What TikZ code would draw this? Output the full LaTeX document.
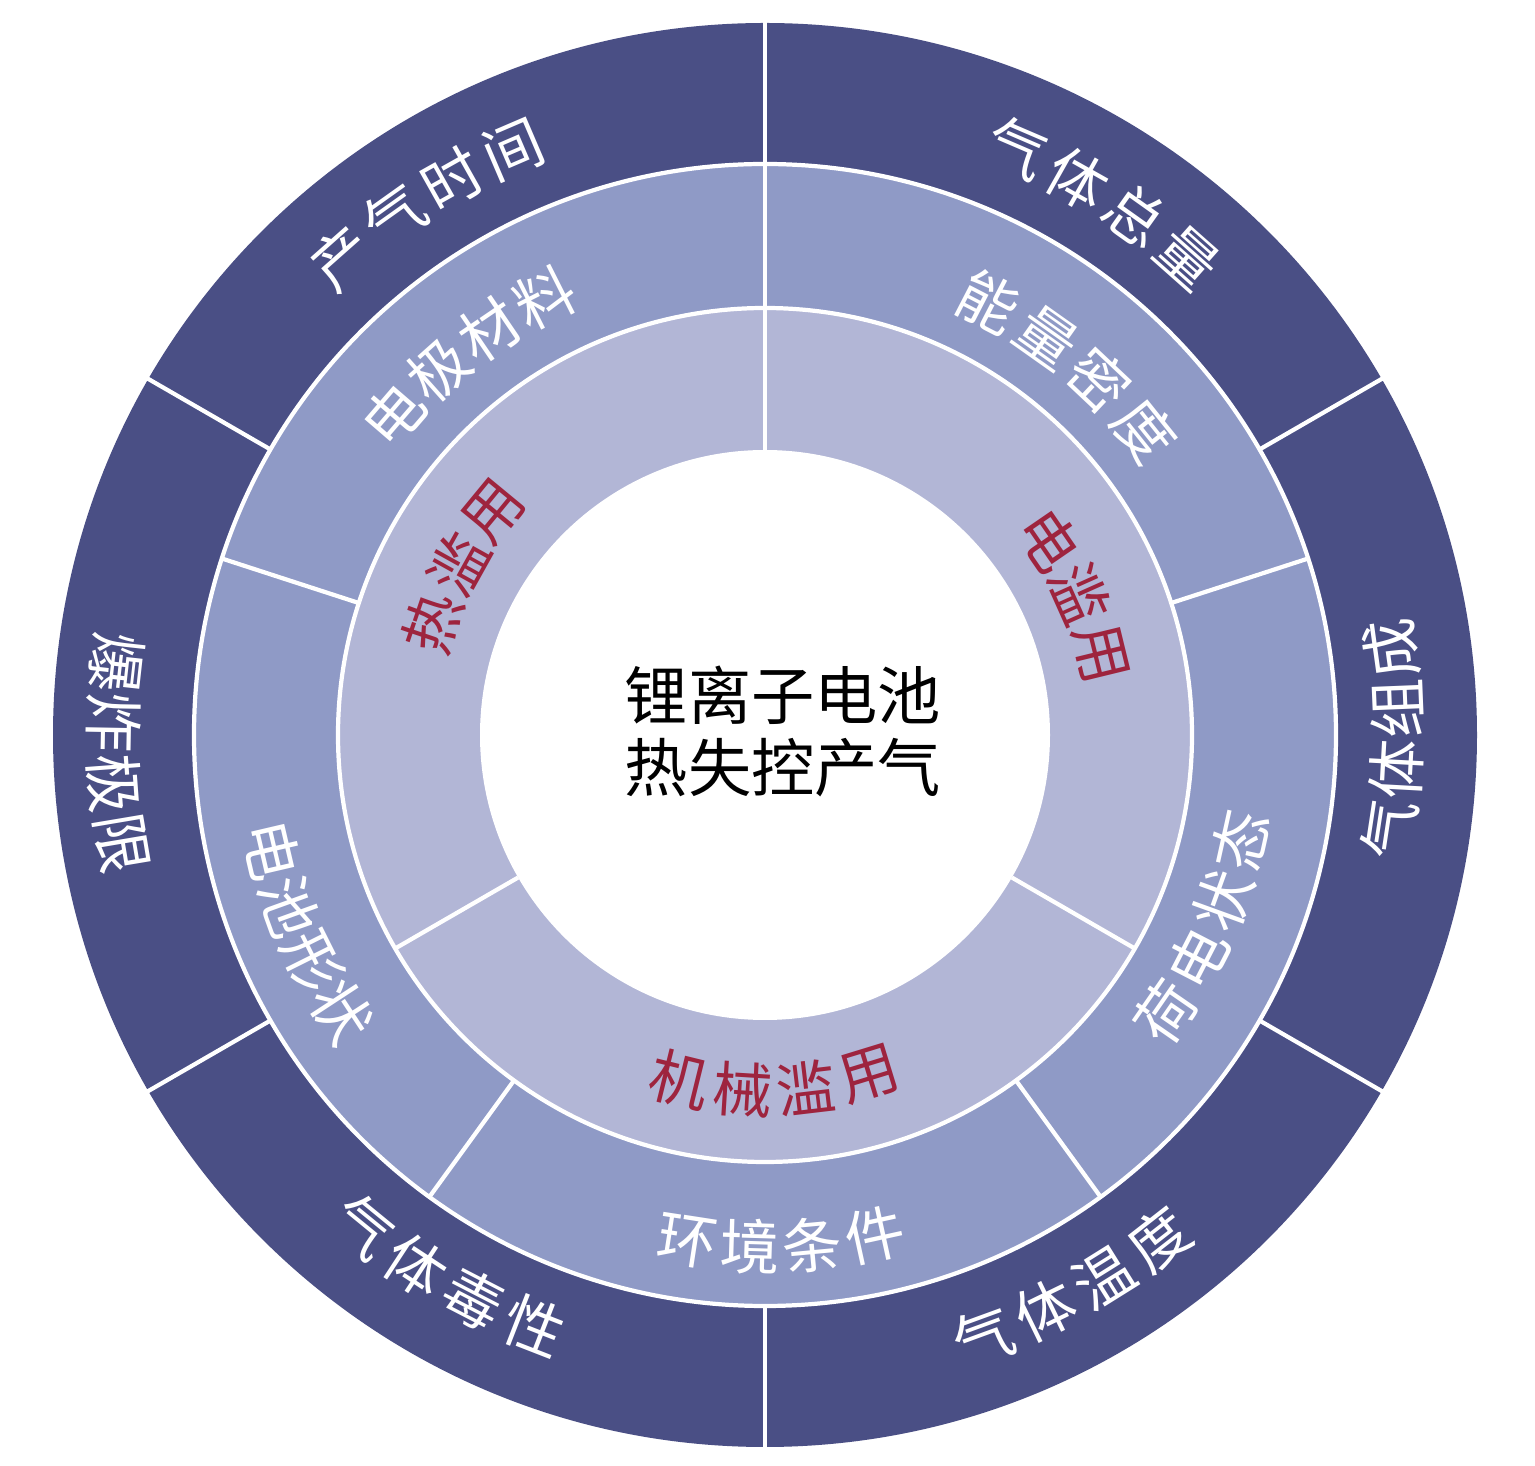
\documentclass[tikz,border=0pt]{standalone}
\usepackage{fontspec}
\newfontfamily\cjk{Noto Sans CJK SC}
\definecolor{ringA}{RGB}{74,79,133}
\definecolor{ringB}{RGB}{143,154,198}
\definecolor{ringC}{RGB}{178,182,214}
\definecolor{abuse}{RGB}{158,36,62}
% labels along an arc: name, centre angle, radius, step (deg), count, style, chars
\newcommand\lbltop[7]{%
  \foreach \ch [count=\k from 0] in {#7}{%
    \pgfmathsetmacro\aa{#2+(#5-1)/2*#4-\k*#4}%
    \pgfmathsetmacro\rr{\aa-90}%
    \node[#6,rotate=\rr] (#1-\k) at (\aa:#3) {\ch};
  }}
\newcommand\lblbot[7]{%
  \foreach \ch [count=\k from 0] in {#7}{%
    \pgfmathsetmacro\aa{#2-(#5-1)/2*#4+\k*#4}%
    \pgfmathsetmacro\rr{\aa+90}%
    \node[#6,rotate=\rr] (#1-\k) at (\aa:#3) {\ch};
  }}
\begin{document}
\begin{tikzpicture}[
  lab/.style={font=\cjk\fontsize{17}{20}\selectfont, inner sep=0pt},
  outlab/.style={lab,text=white},
  inlab/.style={lab,text=abuse},
  sep/.style={white,line width=1.2pt},
]
\useasboundingbox (0,0) rectangle (15.35,14.66);
\fill[white] (0,0) rectangle (15.35,14.66);
\begin{scope}[shift={(7.65,7.31)}]
  \coordinate (O) at (0,0);
  \fill[ringA] (O) circle (7.12);
  \fill[ringB] (O) circle (5.71);
  \fill[ringC] (O) circle (4.27);
  \fill[white] (O) circle (2.85);
  \draw[sep] (O) circle (5.71);
  \draw[sep] (O) circle (4.27);
  \foreach \a in {30,90,...,330} \draw[sep] (\a:5.71) -- (\a:7.14);
  \foreach \a in {18,90,162,234,306} \draw[sep] (\a:4.27) -- (\a:5.71);
  \foreach \a in {90,210,330} \draw[sep] (\a:2.85) -- (\a:4.27);
  % outer ring
  \lbltop{t1}{122.4}{6.38}{6.1}{4}{outlab}{产,气,时,间}
  \lbltop{t2}{57.6}{6.38}{6.1}{4}{outlab}{气,体,总,量}
  \lblbot{t3}{-0.4}{6.32}{5.5}{4}{outlab}{气,体,组,成}
  \lblbot{t4}{-61}{6.40}{6.0}{4}{outlab}{气,体,温,度}
  \lblbot{t5}{239.7}{6.35}{6.0}{4}{outlab}{气,体,毒,性}
  \lblbot{t6}{181.6}{6.52}{5.3}{4}{outlab}{爆,炸,极,限}
  % middle ring
  \lbltop{m1}{128}{4.90}{7.5}{4}{outlab}{电,极,材,料}
  \lbltop{m2}{50.7}{4.87}{8.0}{4}{outlab}{能,量,密,度}
  \lblbot{m3}{-23.6}{4.87}{7.4}{4}{outlab}{荷,电,状,态}
  \lblbot{m4}{203.2}{5.06}{6.7}{4}{outlab}{电,池,形,状}
  \lblbot{m5}{-88.2}{5.12}{7.05}{4}{outlab}{环,境,条,件}
  % inner ring
  \lbltop{i1}{150.9}{3.51}{10.4}{3}{inlab}{热,滥,用}
  \lbltop{i2}{24.1}{3.45}{10.4}{3}{inlab}{电,滥,用}
  \lblbot{i3}{-88.4}{3.55}{10.3}{4}{inlab}{机,械,滥,用}
  % centre
  \node[font=\cjk\fontsize{18}{20.5}\selectfont, align=center, inner sep=0pt] (core) at (0.18,0.04) {锂离子电池\\热失控产气};
\end{scope}
\end{tikzpicture}
\end{document}
